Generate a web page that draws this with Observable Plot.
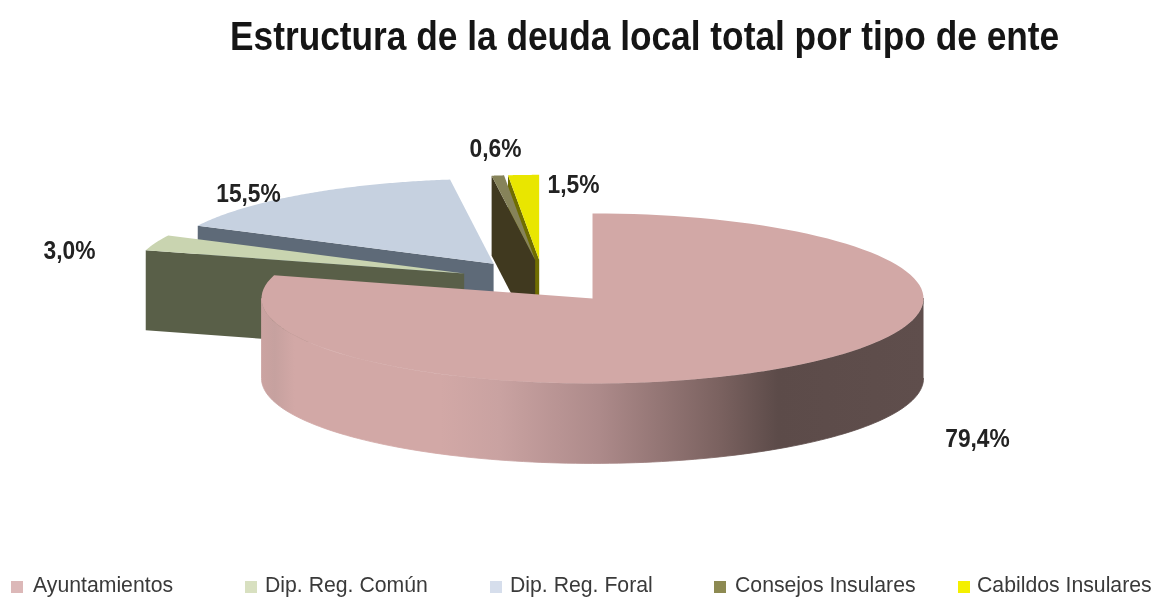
<!DOCTYPE html>
<html lang="es">
<head>
<meta charset="utf-8">
<script src="https://cdn.jsdelivr.net/npm/d3@7"></script>
<script src="https://cdn.jsdelivr.net/npm/@observablehq/plot@0.6"></script>
<style>
html,body{margin:0;padding:0;background:#fff;overflow:hidden;width:1156px;height:597px}
body{font-family:"Liberation Sans",Arial,sans-serif;filter:blur(.7px)}
#title{position:absolute;left:0;top:0;width:1156px;height:80px;}
#title span{position:absolute;left:230px;top:14px;font-size:40px;font-weight:bold;white-space:nowrap;color:#151515;transform-origin:left center;transform:scaleX(.882)}
#chart{position:absolute;left:0;top:80px;}
#legend{position:absolute;left:0;top:560px;width:1156px;height:37px;font-size:22px;color:#3a3a3a}
#legend i{position:absolute;top:21px;width:12px;height:12px}
#legend span{position:absolute;top:12px;white-space:nowrap;transform-origin:left center;transform:scaleX(.965)}
</style>
</head>
<body>
<div id="title"><span>Estructura de la deuda local total por tipo de ente</span></div>
<div id="chart"></div>
<div id="legend"></div>
<script>
const categories = ["Ayuntamientos","Dip. Reg. Común","Dip. Reg. Foral","Consejos Insulares","Cabildos Insulares"];
const shares = [79.4,3.0,15.5,0.6,1.5];
const shareLabels = ["79,4%","3,0%","15,5%","0,6%","1,5%"];

// styling & layout
const topColors  = ["#d2a8a6","#c9d4b0","#c6d1e0","#86835a","#e9e600"];
const wallColors = ["#d2a8a6","#595f48","#5e6a78","#40391f","#6f6d00"];
const swatchColors = ["#dcb8b8","#d8e0c0","#d6deec","#8d8a52","#f4f000"];
const legendLeft = [[11,33],[245,265],[490,510],[714,735],[958,977]];
const labelSpots = [[977,438],[69,250],[248,193],[495,148],[573,184]];
const svgTop = 80, cx = 541.6, cy = 280.8 - svgTop, R = 331, Ry = 85;
const explode = 0.2526, depth = 80 / Ry;
const paintOrder = [2,4,3,1,0];
const sliceNudge = [0,0,0,2.5,1];

const rad = d => d * Math.PI / 180;
let acc = 0;
const slices = shares.map((v,i) => {
  const a0 = acc * 3.6; acc += v; const a1 = acc * 3.6;
  const mid = (a0 + a1) / 2;
  return {i, a0, a1, ax: explode * Math.sin(rad(mid)) + sliceNudge[i] / R, ay: explode * Math.cos(rad(mid))};
});
const rim = (s,a,dz=0) => ({x: s.ax + Math.sin(rad(a)), y: s.ay + Math.cos(rad(a)) - dz});
const arc = (s,a,b,dz=0) => d3.range(0,121).map(k => rim(s, a + (b-a)*k/120, dz));
const apex = (s,dz=0) => ({x: s.ax, y: s.ay - dz});

const marks = [];
marks.push(() => {
  const defs = d3.create("svg:defs");
  const g = defs.append("linearGradient").attr("id","sideShade");
  [[0,"#cba3a1"],[.02,"#c6a19f"],[.05,"#d2a8a6"],[.27,"#d2a8a6"],[.36,"#c9a2a1"],[.51,"#ad8a8a"],[.69,"#7b6260"],[.78,"#5c4b49"],[1,"#5f4e4c"]]
    .forEach(([o,c]) => g.append("stop").attr("offset",o).attr("stop-color",c));
  return defs.node();
});
for (const idx of paintOrder) {
  const s = slices[idx];
  const lineOpts = {x:"x", y:"y", curve:"linear"};
  if (s.a1 > 90 && s.a0 < 270) {
    const a = Math.max(s.a0,90), b = Math.min(s.a1,270);
    const wall = [...arc(s,a,b), ...arc(s,b,a,depth)];
    marks.push(Plot.line(wall, {...lineOpts, fill:"url(#sideShade)", stroke:"url(#sideShade)", strokeWidth:0.8}));
  }
  const startWall = [apex(s), rim(s,s.a0), rim(s,s.a0,depth), apex(s,depth)];
  marks.push(Plot.line(startWall, {...lineOpts, fill:wallColors[idx], stroke:"none"}));
  const face = [apex(s), ...arc(s,s.a0,s.a1)];
  marks.push(Plot.line(face, {...lineOpts, fill:topColors[idx], stroke:"none"}));
}
const labelRows = shareLabels.map((t,i) => ({
  t, x:(labelSpots[i][0]-cx)/R, y:-(labelSpots[i][1]-svgTop-cy)/Ry
}));
marks.push(Plot.text(labelRows, {x:"x", y:"y", text:"t", fontSize:25, fontWeight:"bold",
  fill:"#222", fontFamily:"Liberation Sans"}));

const chart = Plot.plot({
  width:1156, height:480, margin:0,
  style:{background:"transparent"},
  x:{domain:[-1,1], range:[cx-R,cx+R], axis:null},
  y:{domain:[-1,1], range:[cy+Ry,cy-Ry], axis:null},
  marks
});
document.getElementById("chart").append(chart);
chart.querySelectorAll("text").forEach(el => {
  el.setAttribute("lengthAdjust","spacingAndGlyphs");
  el.setAttribute("textLength", (el.getComputedTextLength()*0.91).toFixed(1));
});
const lg = document.getElementById("legend");
categories.forEach((c,i) => {
  const sw = document.createElement("i");
  sw.style.left = legendLeft[i][0]+"px"; sw.style.background = swatchColors[i];
  const sp = document.createElement("span");
  sp.style.left = legendLeft[i][1]+"px"; sp.textContent = c;
  lg.append(sw,sp);
});
</script>
</body>
</html>
